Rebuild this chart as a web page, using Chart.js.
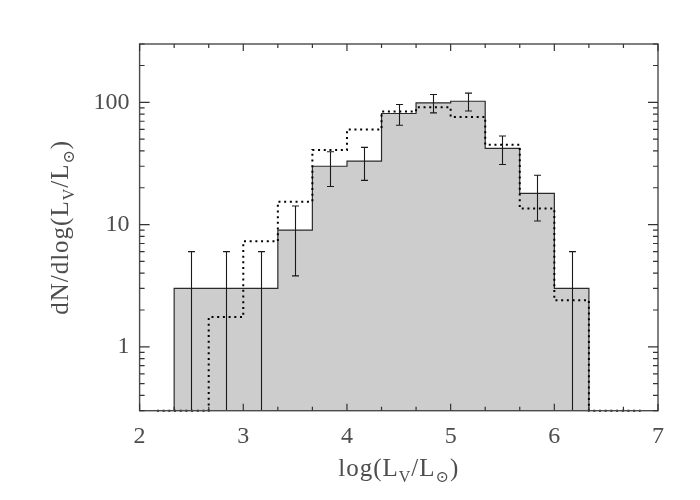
<!DOCTYPE html>
<html>
<head>
<meta charset="utf-8">
<script src="https://cdn.jsdelivr.net/npm/chart.js@4"></script>
<style>
  html, body { margin: 0; padding: 0; background: #fff; }
  #wrap { width: 700px; height: 500px; position: relative; }
</style>
</head>
<body>
<div id="wrap"><canvas id="lumChart"></canvas></div>
<script>
// --- Data ---
// observed histogram (gray, solid outline), bins of 1/3 dex
const binWidth = 1 / 3;
const obsCenters = [2.5, 2.833, 3.167, 3.5, 3.833, 4.167, 4.5, 4.833, 5.167, 5.5, 5.833, 6.167];
const obsValues  = [3, 3, 3, 9, 30, 33, 81, 99, 102, 42, 18, 3];
const errLow     = [0, 0, 0, 3.8, 20.5, 23, 65, 82, 85, 31, 10.7, 0];
const errHigh    = [6, 6, 6, 14.2, 39.4, 42.8, 96, 116, 119, 53, 25.3, 6];

// model histogram (dotted), 0.3 = sits on the bottom axis
const modelCenters = [2.167, 2.5, 2.833, 3.167, 3.5, 3.833, 4.167, 4.5, 4.833, 5.167, 5.5, 5.833, 6.167, 6.5, 6.833];
const modelValues  = [0.3, 0.3, 1.75, 7.3, 15.4, 40.7, 60, 84, 91, 76, 45, 13.5, 2.4, 0.3, 0.3];

// axes
const xTicks = [2, 3, 4, 5, 6, 7];
const yTicks = [1, 10, 100];
const xRange = [2, 7];
const yRange = [0.3, 300];

const FONT = '"Liberation Serif", "DejaVu Serif", serif';
const TEXT_COLOR = '#4d4d4d';

// step outline for observed: start at bottom, step across bins, drop to bottom
const obsPoints = [{ x: obsCenters[0] - binWidth / 2, y: yRange[0] }];
obsCenters.forEach((c, i) => obsPoints.push({ x: c - binWidth / 2, y: obsValues[i] }));
obsPoints.push({ x: obsCenters[obsCenters.length - 1] + binWidth / 2, y: obsValues[obsValues.length - 1] });
obsPoints.push({ x: obsCenters[obsCenters.length - 1] + binWidth / 2, y: yRange[0] });

const modelPoints = modelCenters.map((c, i) => ({ x: c, y: modelValues[i] }));

// draws a label with subscripts, centered on (0,0) of the current transform
function drawRichText(ctx, parts, size) {
    const subSize = Math.round(size * 0.62);
    ctx.letterSpacing = '1px';
    let total = 0;
    parts.forEach(p => {
        ctx.font = (p.sub ? subSize : size) + 'px ' + FONT;
        p.w = ctx.measureText(p.t).width;
        total += p.w;
    });
    let x = -total / 2;
    ctx.textBaseline = 'alphabetic';
    ctx.textAlign = 'left';
    parts.forEach(p => {
        ctx.font = (p.sub ? subSize : size) + 'px ' + FONT;
        ctx.fillText(p.t, x, p.sub ? size * 0.55 : size * 0.33);
        x += p.w;
    });
    ctx.letterSpacing = '0px';
}

const framePlugin = {
    id: 'frame',
    afterDatasetsDraw(chart) {
        const { ctx, chartArea: a, scales: { x, y } } = chart;
        ctx.save();

        // error bars
        ctx.strokeStyle = '#1a1a1a';
        ctx.lineWidth = 1.1;
        obsCenters.forEach((c, i) => {
            const px = Math.round(x.getPixelForValue(c)) + 0.5;
            const top = y.getPixelForValue(errHigh[i]);
            const hasLow = errLow[i] > yRange[0];
            const bot = hasLow ? y.getPixelForValue(errLow[i]) : a.bottom;
            ctx.beginPath();
            ctx.moveTo(px, top); ctx.lineTo(px, bot);
            ctx.moveTo(px - 3.5, top); ctx.lineTo(px + 3.5, top);
            if (hasLow) { ctx.moveTo(px - 3.5, bot); ctx.lineTo(px + 3.5, bot); }
            ctx.stroke();
        });

        // frame
        ctx.strokeStyle = '#4a4a4a';
        ctx.lineWidth = 1.4;
        ctx.strokeRect(a.left, a.top, a.right - a.left, a.bottom - a.top);

        // inward ticks, all four sides
        ctx.lineWidth = 1.2;
        ctx.strokeStyle = '#333';
        ctx.beginPath();
        for (let k = 0; k <= 15; k++) {
            const v = xRange[0] + k / 3;
            const px = x.getPixelForValue(v);
            const len = (k % 3 === 0) ? 7 : 4;
            ctx.moveTo(px, a.bottom); ctx.lineTo(px, a.bottom - len);
            ctx.moveTo(px, a.top); ctx.lineTo(px, a.top + len);
        }
        for (let d = 0.1; d <= 100; d *= 10) {
            for (let m = 1; m <= 9; m++) {
                const v = d * m;
                if (v < yRange[0] || v > yRange[1]) continue;
                const py = y.getPixelForValue(v);
                const len = m === 1 ? 10 : 5;
                ctx.moveTo(a.left, py); ctx.lineTo(a.left + len, py);
                ctx.moveTo(a.right, py); ctx.lineTo(a.right - len, py);
            }
        }
        ctx.stroke();

        // axis titles
        ctx.fillStyle = TEXT_COLOR;
        ctx.save();
        ctx.translate((a.left + a.right) / 2, 468);
        drawRichText(ctx, [{ t: 'log(L' }, { t: 'V', sub: true }, { t: '/L' }, { t: '\u2299', sub: true }, { t: ')' }], 25);
        ctx.restore();

        ctx.save();
        ctx.translate(60, (a.top + a.bottom) / 2);
        ctx.rotate(-Math.PI / 2);
        drawRichText(ctx, [{ t: 'dN/dlog(L' }, { t: 'V', sub: true }, { t: '/L' }, { t: '\u2299', sub: true }, { t: ')' }], 25);
        ctx.restore();

        ctx.restore();
    }
};

new Chart(document.getElementById('lumChart'), {
    type: 'line',
    data: {
        datasets: [
            {
                // model, dotted
                data: modelPoints,
                stepped: 'middle',
                borderColor: '#000',
                borderWidth: 2,
                borderDash: [2, 3.7],
                pointRadius: 0,
                fill: false,
                clip: false,
                order: 0
            },
            {
                // observed, gray filled
                data: obsPoints,
                stepped: 'before',
                borderColor: '#2a2a2a',
                borderWidth: 1.2,
                backgroundColor: '#cdcdcd',
                pointRadius: 0,
                fill: 'start',
                order: 1
            }
        ]
    },
    options: {
        responsive: true,
        maintainAspectRatio: false,
        animation: false,
        events: [],
        layout: { padding: { top: 44, right: 42, left: 0, bottom: 0 } },
        plugins: { legend: { display: false }, tooltip: { enabled: false } },
        scales: {
            x: {
                type: 'linear',
                min: xRange[0],
                max: xRange[1],
                grid: { display: false, drawTicks: false },
                border: { display: false },
                afterBuildTicks: s => { s.ticks = xTicks.map(v => ({ value: v })); },
                afterFit: s => { s.height = 89.3; },
                ticks: {
                    padding: 12,
                    color: TEXT_COLOR,
                    font: { family: FONT, size: 24 },
                    maxRotation: 0,
                    callback: v => String(v)
                }
            },
            y: {
                type: 'logarithmic',
                min: yRange[0],
                max: yRange[1],
                grid: { display: false, drawTicks: false },
                border: { display: false },
                afterBuildTicks: s => { s.ticks = yTicks.map(v => ({ value: v })); },
                afterFit: s => { s.width = 139.6; },
                ticks: {
                    padding: 10,
                    color: TEXT_COLOR,
                    font: { family: FONT, size: 24 },
                    callback: v => String(v)
                }
            }
        }
    },
    plugins: [framePlugin]
});
</script>
</body>
</html>
